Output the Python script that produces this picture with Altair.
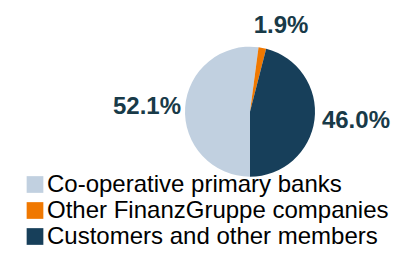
import math
import altair as alt
import pandas as pd

categories = ["Co-operative primary banks", "Other FinanzGruppe companies", "Customers and other members"]
shares = [52.1, 1.9, 46.0]
labels = ["52.1%", "1.9%", "46.0%"]
colors = ["#c1d0e0", "#f07800", "#173f5a"]

df = pd.DataFrame({"cat": categories, "value": shares, "label": labels, "idx": list(range(len(categories)))})

theta_scale = alt.Scale(domain=[0, 100], range=[math.pi, 3 * math.pi])
color_scale = alt.Scale(domain=categories, range=colors)

CX, CY = 242, 103.7

base = alt.Chart(df)

arc = base.mark_arc(outerRadius=65).encode(
    theta=alt.Theta("value:Q", stack=True, scale=theta_scale),
    color=alt.Color(
        "cat:N",
        scale=color_scale,
        sort=categories,
        legend=alt.Legend(
            orient="none", legendX=15, legendY=164.5, title=None,
            symbolType="square", symbolSize=279, symbolStrokeWidth=0,
            labelFontSize=24, labelFont="Liberation Sans", labelColor="#000000",
            rowPadding=2, labelOffset=0, labelLimit=0, padding=0,
        ),
    ),
    order=alt.Order("idx:Q"),
    x=alt.value(CX),
    y=alt.value(CY),
)

# per-label style: radius, dx, dy
label_styles = [(103.2, 0, 2.6), (87.8, 14.3, 0), (106.8, 0, -3.6)]

layers = [arc]
for i, (r, dx, dy) in enumerate(label_styles):
    t = (
        base.transform_window(cum="sum(value)", sort=[alt.SortField("idx")], frame=[None, 0])
        .transform_calculate(mid="datum.cum - datum.value / 2")
        .transform_filter(alt.datum.idx == i)
        .mark_text(radius=r, dx=dx, dy=dy, fontSize=24, fontWeight="bold",
                   font="Liberation Sans", color="#183a48", align="center", baseline="middle")
        .encode(
            theta=alt.Theta("mid:Q", scale=theta_scale, stack=None),
            text="label:N",
            x=alt.value(CX),
            y=alt.value(CY),
        )
    )
    layers.append(t)

chart = (
    alt.layer(*layers)
    .properties(width=384, height=241, autosize="none", padding=0)
    .configure_view(stroke=None)
)

chart.save("out.html", embed_options={"renderer": "svg", "actions": False})
